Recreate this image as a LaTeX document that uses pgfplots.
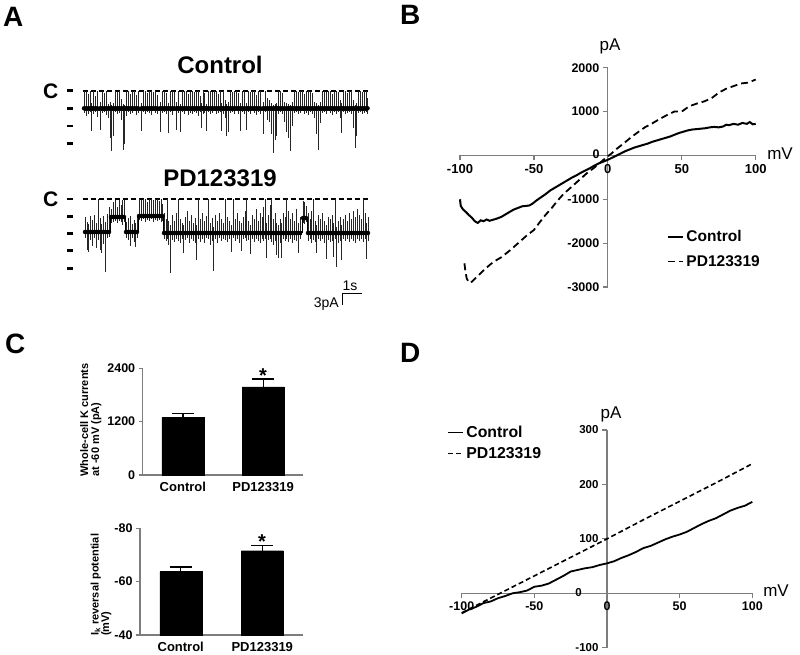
\documentclass[border=0pt]{standalone}
\usepackage{pgfplots}
\pgfplotsset{compat=1.18}
\usepackage{fontspec}
\setmainfont{Liberation Sans}
\newcommand{\fs}[1]{\fontsize{#1}{#1}\selectfont}
\definecolor{axgray}{RGB}{125,125,125}
\pgfplotsset{
  /pgf/number format/assume math mode=true,
  /pgf/number format/1000 sep={},
  scaled ticks=false,
}
\begin{document}
\begin{tikzpicture}
\useasboundingbox (0pt,0pt) rectangle (800pt,-655pt);
% ---------------- Panel A (pixel frame) ----------------
\begin{axis}[at={(0pt,0pt)}, anchor=north west, scale only axis,
  width=800pt, height=655pt, xmin=0, xmax=800, ymin=0, ymax=655,
  y dir=reverse, hide axis, clip=false]
% closed-level dashed lines
\addplot[black, line width=2pt, dash pattern=on 5pt off 3pt] coordinates {(83,90.7)(368,90.7)};
\addplot[black, line width=2pt, dash pattern=on 5pt off 3pt] coordinates {(83,199)(368,199)};
% level ticks
\addplot[black, line width=2.5pt, unbounded coords=jump] coordinates {
(67,90.7)(73,90.7) (nan,nan) (67,108.3)(73,108.3) (nan,nan) (67,126)(73,126) (nan,nan) (67,143.7)(73,143.7)
(nan,nan) (67,199)(73,199) (nan,nan) (67,216.3)(73,216.3) (nan,nan) (67,233.3)(73,233.3) (nan,nan) (67,250.7)(73,250.7) (nan,nan) (67,268.3)(73,268.3)};
% scale bar
\addplot[black, line width=1pt] coordinates {(342,305)(342,293)(362,293)};
% control band
\addplot[black!90, line width=4.5pt] coordinates {(84,109)(368,109)};
% PD band (levels, transitions drawn thin below)
\addplot[black!90, line width=4.5pt, unbounded coords=jump] coordinates {(84,232)(110,232) (nan,nan) (110,217)(125,217) (nan,nan) (125,232)(138,232) (nan,nan) (138,216)(163,216) (nan,nan) (163,233)(302,233) (nan,nan) (302,218)(307,218) (nan,nan) (307,233)(368,233)};
\addplot[black, line width=0.8pt, unbounded coords=jump] coordinates {(110,232)(110,217) (nan,nan) (125,217)(125,232) (nan,nan) (138,232)(138,216) (nan,nan) (163,216)(163,233) (nan,nan) (302,233)(302,218) (nan,nan) (307,218)(307,233)};
% control spikes
\addplot[only marks, mark=none, error bars/.cd, y dir=both, y explicit, error mark=none,
  error bar style={line width=0.6pt, black!85}]
  table[x=x, y=y, y error plus=dn, y error minus=up, row sep=\\] {
x y up dn\\
84 108.3 17 5\\ 86 108.3 17 8\\ 88 108.3 14 6\\ 90 108.3 17 4\\ 91.7 108.3 5 23\\
93 108.3 17 6\\ 95 108.3 12 4\\ 97 108.3 17 9\\ 100 108.3 6 22\\ 102 108.3 17 5\\
104 108.3 15 4\\ 106 108.3 17 7\\ 108 108.3 4 10\\ 110 108.3 6 30\\ 111.5 108.3 3 43\\
113 108.3 5 28\\ 115 108.3 17 4\\ 117 108.3 16 6\\ 119 108.3 17 5\\ 121 108.3 9 12\\
123 108.3 4 42\\ 124.5 108.3 3 36\\ 126 108.3 17 8\\ 128 108.3 17 4\\ 130 108.3 14 6\\
132 108.3 17 5\\ 134 108.3 17 3\\ 136 108.3 13 7\\ 138 108.3 17 5\\ 141.7 108.3 5 23\\
143 108.3 17 4\\ 145 108.3 17 6\\ 147 108.3 15 4\\ 149 108.3 17 5\\ 151 108.3 17 7\\
153 108.3 16 3\\ 155 108.3 17 5\\ 157 108.3 13 6\\ 160 108.3 6 24\\ 162 108.3 17 5\\
164 108.3 17 4\\ 166 108.3 15 6\\ 168 108.3 5 25\\ 170 108.3 17 4\\ 172 108.3 17 7\\
174 108.3 16 3\\ 176.7 108.3 6 22\\ 178 108.3 17 5\\ 180 108.3 4 24\\ 182 108.3 17 4\\
184 108.3 17 6\\ 186 108.3 17 3\\ 188 108.3 14 7\\ 190 108.3 17 5\\ 192 108.3 17 6\\
194 108.3 16 4\\ 196 108.3 17 5\\ 198 108.3 17 8\\ 200 108.3 12 4\\ 201.7 108.3 5 20\\
203 108.3 17 6\\ 204.5 108.3 15 5\\ 206 108.3 4 23\\ 208 108.3 17 4\\ 210 108.3 17 6\\
212 108.3 16 5\\ 214 108.3 17 3\\ 216 108.3 17 6\\ 218 108.3 14 5\\ 220 108.3 17 4\\
221.7 108.3 5 23\\ 223 108.3 17 6\\ 225 108.3 8 10\\ 226.7 108.3 4 28\\ 228 108.3 6 24\\
230 108.3 17 5\\ 232 108.3 16 4\\ 234 108.3 17 6\\ 236 108.3 17 3\\ 238 108.3 15 6\\
240 108.3 5 23\\ 242 108.3 17 4\\ 244 108.3 17 6\\ 246.7 108.3 5 22\\ 248 108.3 17 4\\
250 108.3 16 6\\ 252 108.3 17 3\\ 254 108.3 17 5\\ 256 108.3 13 7\\ 258 108.3 17 4\\
260 108.3 17 6\\ 263 108.3 6 26\\ 265 108.3 17 4\\ 267 108.3 10 12\\ 269 108.3 8 14\\
271 108.3 5 26\\ 273.3 108.3 3 45\\ 275 108.3 4 32\\ 276.7 108.3 5 28\\ 278 108.3 17 6\\
280 108.3 17 4\\ 282 108.3 15 6\\ 284 108.3 6 14\\ 286.7 108.3 5 24\\ 288.5 108.3 4 30\\
290 108.3 3 43\\ 292 108.3 6 18\\ 294 108.3 17 5\\ 296 108.3 17 4\\ 298 108.3 16 6\\
300 108.3 17 5\\ 302 108.3 17 3\\ 304 108.3 14 6\\ 306 108.3 17 5\\ 308 108.3 17 7\\
310 108.3 17 4\\ 312 108.3 15 6\\ 314 108.3 6 10\\ 316 108.3 5 26\\ 318 108.3 3 42\\
320 108.3 6 15\\ 322 108.3 17 5\\ 324 108.3 17 4\\ 326 108.3 16 6\\ 328 108.3 17 3\\
330 108.3 17 5\\ 332 108.3 14 7\\ 334 108.3 17 4\\ 336 108.3 17 6\\ 338 108.3 16 4\\
340 108.3 8 10\\ 341.7 108.3 5 25\\ 343 108.3 17 4\\ 345 108.3 17 6\\ 347 108.3 15 5\\
349 108.3 17 4\\ 351 108.3 17 6\\ 353 108.3 8 20\\ 355 108.3 3 40\\ 356.5 108.3 5 28\\
358 108.3 17 5\\ 360 108.3 17 4\\ 362 108.3 16 6\\ 364 108.3 17 5\\ 366 108.3 17 4\\
367.5 108.3 10 6\\
};
% PD spikes
\addplot[only marks, mark=none, error bars/.cd, y dir=both, y explicit, error mark=none,
  error bar style={line width=0.6pt, black!85}]
  table[x=x, y=y, y error plus=dn, y error minus=up, row sep=\\] {
x y up dn\\
85 232 15 6\\ 87 232 10 18\\ 88.5 232 8 20\\ 90 232 16 8\\ 92 232 12 14\\
94 232 17 6\\ 96 232 9 16\\ 98 232 33 8\\ 100 232 14 18\\ 101.7 232 8 21\\
103 232 16 12\\ 105 232 10 40\\ 107 232 18 6\\ 109 232 25 5\\ 111 217 8 6\\
113 217 15 5\\ 115 217 17 4\\ 117 217 10 6\\ 119 217 17 4\\ 121 217 12 5\\
122 217 17 8\\ 124 217 17 5\\ 126 232 10 6\\ 128 232 14 8\\ 130 232 16 14\\
132 232 8 6\\ 134 232 12 10\\ 135.5 232 9 15\\ 137 232 16 6\\ 139 216 17 4\\
141 216 16 5\\ 143 216 17 3\\ 145 216 17 6\\ 147 216 14 4\\ 149 216 17 5\\
151 216 17 3\\ 153 216 16 6\\ 155 216 17 4\\ 157 216 17 5\\ 159 216 15 4\\
161 216 17 6\\ 162.5 216 12 5\\ 164 233 20 6\\ 166 233 14 8\\ 167 233 34 6\\
168.5 233 12 12\\ 170 233 8 40\\ 172 233 18 7\\ 174 233 12 9\\ 176 233 20 6\\
178 233 34 8\\ 180 233 14 10\\ 182 233 10 6\\ 183 233 8 20\\ 185 233 16 7\\
187 233 22 5\\ 189 233 12 10\\ 191 233 18 6\\ 193 233 10 8\\ 195 233 15 10\\
196.7 233 8 27\\ 198 233 34 6\\ 200 233 14 9\\ 202 233 20 6\\ 204 233 12 10\\
206 233 17 5\\ 208 233 34 6\\ 210 233 10 12\\ 212 233 15 8\\ 213 233 6 38\\
215 233 18 6\\ 217 233 12 10\\ 219 233 20 5\\ 221 233 14 8\\ 223 233 10 6\\
225 233 34 7\\ 227 233 16 9\\ 229 233 12 6\\ 231.7 233 8 19\\ 233 233 34 5\\
235 233 14 8\\ 237 233 20 6\\ 239 233 12 10\\ 241.7 233 10 18\\ 243 233 16 6\\
245 233 22 5\\ 246.7 233 34 8\\ 248 233 12 7\\ 250 233 8 21\\ 252 233 18 6\\
254 233 14 9\\ 256 233 24 6\\ 258 233 12 8\\ 260 233 20 10\\ 262 233 16 6\\
263.5 233 26 8\\ 265 233 34 6\\ 266.7 233 10 25\\ 268 233 18 7\\ 270 233 28 6\\
271.7 233 34 9\\ 273 233 14 12\\ 275 233 20 8\\ 276.5 233 10 22\\ 278.3 233 8 25\\
280 233 14 10\\ 281.7 233 10 25\\ 283 233 20 6\\ 285 233 16 8\\ 286.7 233 34 6\\
288 233 22 9\\ 290 233 14 6\\ 292 233 20 10\\ 294 233 12 7\\ 296 233 24 8\\
298 233 10 20\\ 300 233 16 6\\ 303 218 17 5\\ 304.5 218 16 6\\ 306 218 12 4\\
308 233 20 8\\ 310 233 14 6\\ 311.5 233 22 10\\ 313.3 233 34 7\\ 315 233 12 9\\
316.7 233 8 20\\ 318 233 18 6\\ 320 233 14 8\\ 322 233 20 6\\ 324 233 12 10\\
326.7 233 8 26\\ 328 233 16 7\\ 330 233 14 9\\ 332 233 18 8\\ 333.5 233 10 24\\
335 233 34 6\\ 336.7 233 6 34\\ 338 233 12 10\\ 340 233 16 8\\ 341.7 233 8 27\\
343 233 14 6\\ 345 233 18 8\\ 347 233 12 6\\ 349 233 20 9\\ 351 233 14 6\\
353 233 22 8\\ 355 233 16 10\\ 357 233 24 6\\ 359 233 18 8\\ 361 233 14 6\\
363.3 233 34 9\\ 365 233 20 6\\ 366.7 233 10 26\\ 368 233 16 8\\
};
\end{axis}
% ---------------- Panel B ----------------
\begin{axis}[at={(460pt,-67.7pt)}, anchor=north west, scale only axis, clip=false,
  width=295.7pt, height=219.3pt, xmin=-100, xmax=100, ymin=-3000, ymax=2000,
  axis lines=middle, axis line style={axgray, line width=1.2pt, -},
  xtick={-100,-50,0,50,100}, ytick={-3000,-2000,-1000,0,1000,2000},
  tick style={axgray, line width=1.2pt}, major tick length=5pt, tick align=outside,
  xticklabel style={font=\bfseries\fs{13}}, yticklabel style={font=\bfseries\fs{12.5}},
  legend style={at={(axis description cs:0.700,0.262)}, anchor=north west, draw=none, fill=none,
    font=\bfseries\fs{15.5}, inner sep=0pt, row sep=10pt, column sep=2pt, nodes={inner sep=1pt}},
  legend cell align=left,
  legend image code/.code={\draw[#1, line width=1.3pt] (0pt,0pt) -- (15pt,0pt);}]
\addplot[black, line width=2pt] coordinates {
(-100,-1000)(-99.5,-1150)(-98,-1230)(-96,-1290)(-94,-1360)(-92,-1420)(-90,-1500)(-88,-1540)
(-86,-1480)(-84,-1500)(-82,-1460)(-80,-1490)(-78,-1470)(-75,-1440)(-72,-1400)(-70,-1360)
(-67,-1300)(-64,-1240)(-61,-1200)(-58,-1160)(-55,-1150)(-53,-1140)(-51,-1100)(-48,-1020)
(-45,-950)(-42,-880)(-39,-800)(-36,-740)(-33,-680)(-30,-620)(-27,-560)(-24,-500)(-21,-450)
(-18,-390)(-15,-340)(-12,-290)(-9,-230)(-6,-180)(-3,-140)(0,-100)(3,-50)(6,0)(9,50)(12,100)
(15,140)(18,180)(21,210)(24,240)(27,270)(30,310)(33,340)(36,370)(39,400)(42,430)(45,470)
(48,510)(51,540)(54,570)(57,590)(60,600)(63,610)(66,620)(69,640)(72,650)(75,640)(78,660)
(80,700)(82,690)(85,720)(88,700)(91,740)(94,720)(96,760)(98,710)(100,720)};
\addlegendentry{Control}
\addplot[black, line width=1.8pt, dash pattern=on 7pt off 4pt] coordinates {
(-97,-2460)(-96.5,-2600)(-95.5,-2800)(-94,-2900)(-92,-2880)(-88,-2750)(-84,-2620)(-80,-2500)
(-77,-2420)(-72,-2320)(-66,-2160)(-60,-1980)(-55,-1830)(-50,-1700)(-46,-1520)(-42,-1350)
(-38,-1200)(-34,-1030)(-30,-880)(-26,-760)(-22,-640)(-18,-520)(-14,-400)(-10,-300)(-6,-190)
(-3,-100)(0,-20)(3,60)(6,150)(9,230)(12,310)(16,420)(20,520)(25,640)(30,730)(35,830)(40,920)
(45,1000)(50,1000)(55,1120)(60,1180)(65,1230)(70,1300)(75,1430)(80,1520)(85,1580)(90,1640)
(95,1660)(100,1730)};
\addlegendentry{PD123319}
\node[font=\bfseries\fs{12.5}, anchor=east, inner sep=0pt] at (axis cs:0,0) [xshift=-8pt, yshift=1pt] {0};
\node[font=\bfseries\fs{13}, anchor=base, inner sep=0pt] at (axis cs:0,0) [yshift=-18.3pt] {0};
\end{axis}
% ---------------- Panel C top ----------------
\begin{axis}[at={(142.7pt,-368.3pt)}, anchor=north west, scale only axis,
  width=160.6pt, height=106.7pt, xmin=-0.5, xmax=1.5, ymin=0, ymax=2400,
  axis lines=left, axis line style={-, axgray, line width=1.2pt},
  ytick={0,1200,2400}, xtick={0,1}, xticklabels={Control,PD123319},
  x tick style={draw=none}, y tick style={axgray, line width=1.2pt},
  tick align=outside, major tick length=4pt,
  xticklabel style={font=\bfseries\fs{13}}, yticklabel style={font=\bfseries\fs{12.5}},
  ybar, bar width=42pt, bar shift=0pt]
\addplot[fill=black, draw=black, error bars/.cd, y dir=plus, y explicit, error mark=|,
  error bar style={line width=1.3pt, black}, error mark options={line width=1.3pt, mark size=11pt, black}]
  coordinates {(0,1290) +- (0,90) (1,1981) +- (0,180)};
\end{axis}
% ---------------- Panel C bottom ----------------
\begin{axis}[at={(140pt,-528.3pt)}, anchor=north west, scale only axis,
  width=163pt, height=106.7pt, xmin=-0.5, xmax=1.5, ymin=40, ymax=80,
  axis lines=left, axis line style={-, axgray, line width=1.2pt},
  ytick={40,60,80}, yticklabels={-40,-60,-80}, xtick={0,1}, xticklabels={Control,PD123319},
  x tick style={draw=none}, y tick style={axgray, line width=1.2pt},
  tick align=outside, major tick length=4pt,
  xticklabel style={font=\bfseries\fs{13}}, yticklabel style={font=\bfseries\fs{12.5}},
  ybar, bar width=42pt, bar shift=0pt]
\addplot[fill=black, draw=black, error bars/.cd, y dir=plus, y explicit, error mark=|,
  error bar style={line width=1.3pt, black}, error mark options={line width=1.3pt, mark size=11pt, black}]
  coordinates {(0,63.75) +- (0,1.75) (1,71.6) +- (0,1.9)};
\end{axis}
% ---------------- Panel D ----------------
\begin{axis}[at={(461.7pt,-430pt)}, anchor=north west, scale only axis, clip=false,
  width=290.6pt, height=217.7pt, xmin=-100, xmax=100, ymin=-100, ymax=300,
  axis lines=middle, axis line style={axgray, line width=1.2pt, -},
  xtick={-100,-50,0,50,100}, ytick={-100,0,100,200,300},
  tick style={axgray, line width=1.2pt}, major tick length=5pt, tick align=outside,
  xticklabel style={font=\bfseries\fs{12.5}}, yticklabel style={font=\bfseries\fs{11.5}},
  legend style={at={(axis description cs:-0.0506,1.024)}, anchor=north west, draw=none, fill=none,
    font=\bfseries\fs{15.8}, inner sep=0pt, row sep=6.5pt, column sep=2pt, nodes={inner sep=1pt}},
  legend cell align=left,
  legend image code/.code={\draw[#1, line width=1.2pt] (0pt,0pt) -- (15pt,0pt);}]
\addplot[black, line width=1.8pt] coordinates {
(-100,-37)(-95,-30)(-90,-25)(-85,-18)(-80,-15)(-75,-9)(-70,-5)(-65,0)(-60,2)(-55,5)(-50,12)
(-45,14)(-40,18)(-35,25)(-30,32)(-25,40)(-20,43)(-15,46)(-10,48)(-5,52)(0,55)(5,59)(10,65)
(15,70)(20,76)(25,83)(30,87)(35,93)(40,99)(45,104)(50,108)(55,113)(60,120)(65,127)(70,133)
(75,138)(80,145)(85,152)(90,157)(95,161)(100,168)};
\addlegendentry{Control}
\addplot[black, line width=1.6pt, dash pattern=on 5pt off 3pt] coordinates {
(-100,-36)(-75,-2)(-50,32)(-25,66)(0,100)(25,135)(50,169)(75,203)(100,238)};
\addlegendentry{PD123319}
\node[font=\bfseries\fs{11.5}, anchor=east, inner sep=0pt] at (axis cs:0,0) [xshift=-25pt, yshift=1pt] {0};
\node[font=\bfseries\fs{12.5}, anchor=base, inner sep=0pt] at (axis cs:0,0) [yshift=-17.7pt] {0};
\end{axis}
% ---------------- Texts ----------------
\node[font=\bfseries\fs{28}, anchor=base west, inner sep=0pt] at (3pt,-27pt) {A};
\node[font=\bfseries\fs{28}, anchor=base west, inner sep=0pt] at (400pt,-25pt) {B};
\node[font=\bfseries\fs{28}, anchor=base west, inner sep=0pt] at (5pt,-353pt) {C};
\node[font=\bfseries\fs{28}, anchor=base west, inner sep=0pt] at (400pt,-362pt) {D};
\node[font=\bfseries\fs{24}, anchor=base, inner sep=0pt] at (220pt,-74pt) {Control};
\node[font=\bfseries\fs{24}, anchor=base, inner sep=0pt] at (220pt,-186.7pt) {PD123319};
\node[font=\bfseries\fs{21}, anchor=base west, inner sep=0pt] at (43pt,-98.3pt) {C};
\node[font=\bfseries\fs{21}, anchor=base west, inner sep=0pt] at (43pt,-206.7pt) {C};
\node[font=\fs{14}, anchor=base, inner sep=0pt] at (350pt,-290pt) {1s};
\node[font=\fs{14}, anchor=base east, inner sep=0pt] at (339pt,-307pt) {3pA};
\node[font=\fs{17}, anchor=base, inner sep=0pt] at (610pt,-50.7pt) {pA};
\node[font=\fs{17}, anchor=base, inner sep=0pt] at (780pt,-159.3pt) {mV};
\node[font=\fs{17}, anchor=base, inner sep=0pt] at (611pt,-418.3pt) {pA};
\node[font=\fs{17}, anchor=base, inner sep=0pt] at (776pt,-596.7pt) {mV};
\node[font=\bfseries\fs{11}, anchor=base west, inner sep=0pt, rotate=90] at (88pt,-476.7pt) {Whole-cell K currents};
\node[font=\bfseries\fs{11}, anchor=base west, inner sep=0pt, rotate=90] at (99pt,-476.7pt) {at -60 mV (pA)};
\node[font=\bfseries\fs{11}, anchor=base west, inner sep=0pt, rotate=90] at (98.5pt,-636pt) {I\textsubscript{k} reversal potential};
\node[font=\bfseries\fs{11}, anchor=base west, inner sep=0pt, rotate=90] at (109pt,-636pt) {(mV)};
\node[font=\bfseries\fs{20}, anchor=base, inner sep=0pt] at (263pt,-382.6pt) {*};
\node[font=\bfseries\fs{20}, anchor=base, inner sep=0pt] at (262pt,-548.6pt) {*};
\end{tikzpicture}
\end{document}
